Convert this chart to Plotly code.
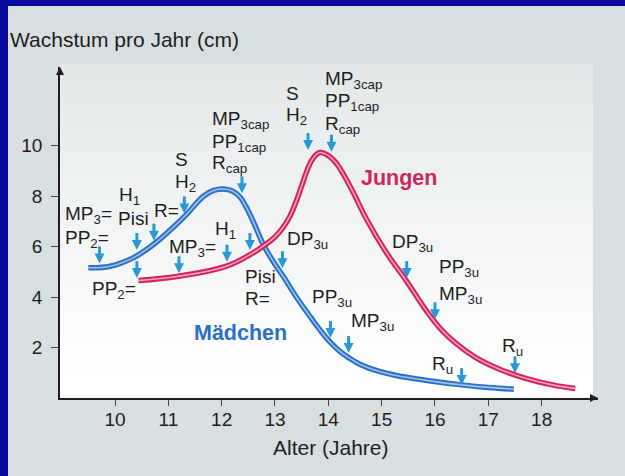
import plotly.graph_objects as go

# Growth velocity (cm per year) against age (years)
girls_age = [9.5, 9.91, 10.34, 10.72, 11.28, 11.66, 11.85, 12.03, 12.2, 12.34, 12.45, 12.59,
             12.78, 13.0, 13.16, 13.4, 13.66, 13.85, 14.04, 14.2, 14.38, 14.6, 14.94,
             15.3, 15.7, 16.06, 16.5, 17.0, 17.48]
girls_rate = [5.16, 5.22, 5.55, 6.08, 7.14, 7.99, 8.22, 8.28, 8.2, 7.97, 7.6, 7.0,
              6.08, 5.3, 4.8, 4.0, 3.22, 2.68, 2.2, 1.88, 1.6, 1.33, 1.06,
              0.88, 0.74, 0.63, 0.52, 0.42, 0.35]

boys_age = [10.44, 11.19, 12.09, 12.59, 12.82, 13.0, 13.15, 13.28, 13.4, 13.5, 13.6, 13.7,
            13.84, 14.0, 14.15, 14.3, 14.47, 14.72, 15.09, 15.47, 15.84, 16.1, 16.4, 16.75,
            17.2, 17.7, 18.2, 18.63]
boys_rate = [4.65, 4.82, 5.22, 5.75, 6.08, 6.38, 6.75, 7.2, 7.8, 8.4, 9.0, 9.45,
             9.72, 9.6, 9.3, 8.8, 8.13, 7.07, 5.75, 4.62, 3.45, 2.75, 2.15, 1.62,
             1.15, 0.78, 0.52, 0.38]

x_ticks = [10, 11, 12, 13, 14, 15, 16, 17, 18]
y_ticks = [2, 4, 6, 8, 10]

# Maturity indicators: one text line each, anchored at its left edge (age, rate)
label_text = [
    "MP<sub>3</sub>=", "PP<sub>2</sub>=", "H<sub>1</sub>", "Pisi", "R=", "S", "H<sub>2</sub>",
    "MP<sub>3cap</sub>", "PP<sub>1cap</sub>", "R<sub>cap</sub>", "DP<sub>3u</sub>",
    "PP<sub>3u</sub>", "MP<sub>3u</sub>", "R<sub>u</sub>",
    "PP<sub>2</sub>=", "MP<sub>3</sub>=", "H<sub>1</sub>", "Pisi", "R=", "S", "H<sub>2</sub>",
    "MP<sub>3cap</sub>", "PP<sub>1cap</sub>", "R<sub>cap</sub>", "DP<sub>3u</sub>",
    "PP<sub>3u</sub>", "MP<sub>3u</sub>", "R<sub>u</sub>",
]
label_age = [9.025, 9.025, 10.04, 10.02, 10.69, 11.09, 11.09,
             11.78, 11.78, 11.78, 13.19, 13.66, 14.39, 15.91,
             9.53, 10.98, 11.84, 12.4, 12.4, 13.17, 13.17,
             13.9, 13.9, 13.9, 15.16, 16.03, 16.03, 17.22]
label_rate = [7.24, 6.3, 8.0, 7.09, 7.41, 9.43, 8.51,
              11.01, 10.1, 9.27, 6.26, 3.96, 3.01, 1.31,
              4.28, 5.94, 6.65, 4.83, 3.96, 12.04, 11.17,
              12.59, 11.73, 10.81, 6.14, 5.14, 4.08, 2.03]

# Indicator arrows: age and height of the arrow tip
arrow_age = [9.71, 10.41, 10.73, 11.3, 12.38, 13.14, 14.04, 14.38, 16.5,
             10.41, 11.2, 12.1, 12.53, 13.62, 14.06, 15.47, 16.0, 17.5]
arrow_tip = [5.33, 5.86, 6.23, 7.31, 8.11, 5.14, 2.38, 1.78, 0.51,
             4.75, 4.94, 5.4, 5.86, 9.82, 9.75, 4.75, 3.12, 0.98]

series_names = ["Mädchen", "Jungen"]
series_label_pos = [(12.36, 2.59), (15.33, 8.73)]

FONT = "Liberation Sans, Arial, Helvetica, sans-serif"
INK = "#1e1e1e"
BLUE, BLUE_HI = "#2c6fc3", "#9cc4ee"
RED, RED_HI = "#d0245a", "#f4a3bd"
ARROW = "#2a98d6"
BG = "#d7dfe1"
FRAME = "#0a0aa0"

W, H = 625, 476
ML, MR, MT, MB = 60, 27, 67, 78
pw, ph = W - ML - MR, H - MT - MB
X_PX_PER_YEAR = 53.33
Y_PX_PER_CM = 25.25

x_lo = 10 - (115 - ML) / X_PX_PER_YEAR
x_hi = 10 + (W - MR - 115) / X_PX_PER_YEAR
y_hi = ph / Y_PX_PER_CM


def px_to_paper(px, py):
    return (px - ML) / pw, (H - MB - py) / ph


fig = go.Figure()

# growth curves drawn as a two-tone tube
for ages, rates, dark, light, name in [
    (girls_age, girls_rate, BLUE, BLUE_HI, series_names[0]),
    (boys_age, boys_rate, RED, RED_HI, series_names[1]),
]:
    fig.add_trace(go.Scatter(x=ages, y=rates, mode="lines", name=name,
                             line=dict(color=dark, width=5.5, shape="spline", smoothing=1.15),
                             hoverinfo="skip", showlegend=False))
    fig.add_trace(go.Scatter(x=ages, y=rates, mode="lines", name=name,
                             line=dict(color=light, width=1.6, shape="spline", smoothing=1.15),
                             hoverinfo="skip", showlegend=False))

# indicator arrows: shaft segments plus arrowheads at the tips
shaft_x, shaft_y = [], []
for a, tip in zip(arrow_age, arrow_tip):
    shaft_x += [a, a, None]
    shaft_y += [tip + 17 / Y_PX_PER_CM, tip + 6 / Y_PX_PER_CM, None]
fig.add_trace(go.Scatter(x=shaft_x, y=shaft_y, mode="lines",
                         line=dict(color=ARROW, width=3), hoverinfo="skip",
                         showlegend=False, cliponaxis=False))
fig.add_trace(go.Scatter(x=arrow_age, y=arrow_tip, mode="markers",
                         marker=dict(symbol="arrow-down", size=10, color=ARROW,
                                     line=dict(width=0)),
                         hoverinfo="skip", showlegend=False, cliponaxis=False))

# axis arrowheads
fig.add_trace(go.Scatter(x=[x_lo, x_hi], y=[y_hi, 0], mode="markers",
                         marker=dict(symbol=["arrow-up", "arrow-right"], size=8, color=INK,
                                     line=dict(width=0)),
                         hoverinfo="skip", showlegend=False, cliponaxis=False))

shapes = []
# outer frame and background
x0, y0 = px_to_paper(0, 0)
x1, y1 = px_to_paper(W, H)
shapes.append(dict(type="rect", xref="paper", yref="paper", x0=x0, y0=y1, x1=x1, y1=y0,
                   fillcolor=FRAME, line_width=0, layer="below"))
bx0, by0 = px_to_paper(8, 6)
shapes.append(dict(type="rect", xref="paper", yref="paper", x0=bx0, y0=y1, x1=x1, y1=by0,
                   fillcolor=BG, line_width=0, layer="below"))

# light panel behind the curves, fading from grey to white downwards
top_c = (0xe2, 0xe7, 0xe8)
bot_c = (0xff, 0xff, 0xff)
panel_top, panel_bot = 64, H - MB
panel_right = 593
n_bands = 60
for i in range(n_bands):
    t0 = i / n_bands
    t1 = (i + 1) / n_bands
    tm = (t0 + t1) / 2
    f = min(1.0, tm ** 0.9 * 1.05)
    c = tuple(round(top_c[k] + (bot_c[k] - top_c[k]) * f) for k in range(3))
    pya = panel_top + (panel_bot - panel_top) * t0
    pyb = panel_top + (panel_bot - panel_top) * t1 + 0.6
    xa, ya = px_to_paper(ML, pya)
    xb, yb = px_to_paper(panel_right, min(pyb, panel_bot))
    shapes.append(dict(type="rect", xref="paper", yref="paper", x0=xa, x1=xb, y0=yb, y1=ya,
                       fillcolor="rgb(%d,%d,%d)" % c, line_width=0, layer="below"))

annotations = []
for txt, a, r in zip(label_text, label_age, label_rate):
    annotations.append(dict(x=a, y=r, xref="x", yref="y", text=txt, showarrow=False,
                            xanchor="left", yanchor="middle",
                            font=dict(family=FONT, size=19, color=INK)))

for name, (a, r), col in zip(series_names, series_label_pos, [BLUE, RED]):
    annotations.append(dict(x=a, y=r, xref="x", yref="y", text="<b>%s</b>" % name,
                            showarrow=False, xanchor="center", yanchor="middle",
                            font=dict(family=FONT, size=21.5, color=col)))

# y-axis caption, written horizontally above the axis
tx, ty = px_to_paper(8, 40)
annotations.append(dict(x=tx, y=ty, xref="paper", yref="paper", text="Wachstum pro Jahr (cm)",
                        showarrow=False, xanchor="left", yanchor="middle",
                        font=dict(family=FONT, size=21, color=INK)))
tx, ty = px_to_paper(331, 447)
annotations.append(dict(x=tx, y=ty, xref="paper", yref="paper", text="Alter (Jahre)",
                        showarrow=False, xanchor="center", yanchor="middle",
                        font=dict(family=FONT, size=21, color=INK)))

fig.update_layout(
    width=W, height=H,
    margin=dict(l=ML, r=MR, t=MT, b=MB, pad=0),
    paper_bgcolor=BG, plot_bgcolor="rgba(0,0,0,0)",
    shapes=shapes, annotations=annotations,
    showlegend=False,
    xaxis=dict(range=[x_lo, x_hi], tickvals=x_ticks, ticktext=[str(v) for v in x_ticks],
               showgrid=False, zeroline=False, showline=True, linecolor=INK, linewidth=1.6,
               ticks="outside", ticklen=6, tickwidth=1.3, tickcolor="#444",
               tickfont=dict(family=FONT, size=19, color=INK), ticklabelstandoff=-3,
               fixedrange=True),
    yaxis=dict(range=[0, y_hi], tickvals=y_ticks, ticktext=[str(v) for v in y_ticks],
               showgrid=False, zeroline=False, showline=True, linecolor=INK, linewidth=1.6,
               ticks="outside", ticklen=7, tickwidth=1.3, tickcolor="#444",
               tickfont=dict(family=FONT, size=19, color=INK), ticklabelstandoff=5,
               fixedrange=True),
)

fig.write_html("out.html")
